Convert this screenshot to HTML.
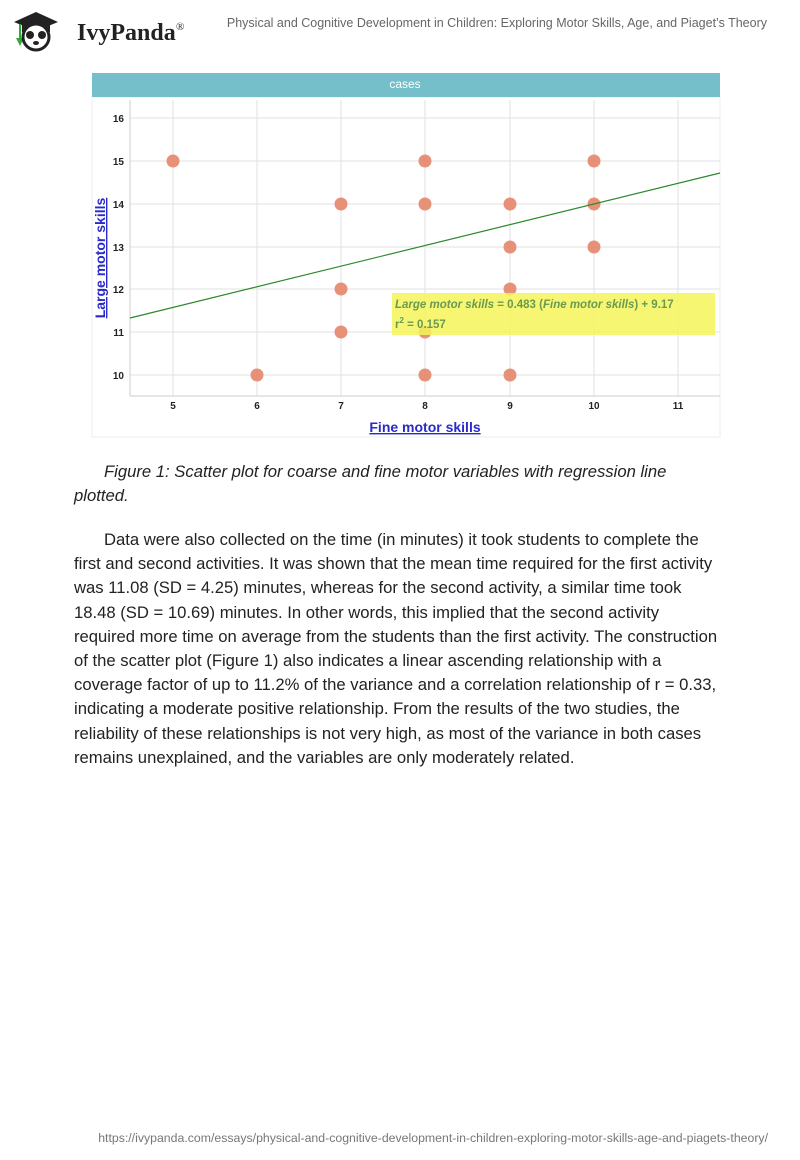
<!DOCTYPE html>
<html><head><meta charset="utf-8"><style>
body{margin:0;width:800px;height:1160px;background:#fff;position:relative;font-family:"Liberation Sans",sans-serif;overflow:hidden}
.l{position:absolute;left:74px;font-size:16.65px;color:#222;white-space:nowrap}
.i{font-style:italic}
</style></head><body>
<svg width="800" height="1160" style="position:absolute;left:0;top:0">
<g>
<polygon points="14,22 36,12 58,22 36,31" fill="#222"/>
<rect x="22" y="24" width="28" height="8" fill="#222"/>
<line x1="20" y1="24" x2="20" y2="40" stroke="#3a3" stroke-width="2"/>
<path d="M16,38 l4,8 l4,-8z" fill="#3a3"/>
<circle cx="36" cy="37" r="13" fill="#fff" stroke="#222" stroke-width="3"/>
<circle cx="30" cy="35" r="4" fill="#222"/><circle cx="42" cy="35" r="4" fill="#222"/>
<ellipse cx="36" cy="43" rx="3" ry="2" fill="#222"/>
</g>
<text x="77" y="40" font-family="Liberation Serif,serif" font-size="24" font-weight="bold" fill="#222">IvyPanda</text>
<text x="176" y="30" font-family="Liberation Serif,serif" font-size="11" fill="#222">®</text>
<text x="767" y="27" text-anchor="end" font-size="12.5" fill="#666">Physical and Cognitive Development in Children: Exploring Motor Skills, Age, and Piaget’s Theory</text>
<rect x="92" y="97" width="628" height="340" fill="#fff" stroke="#eee"/>
<rect x="92" y="73" width="628" height="24" fill="#74bfc9"/>
<text x="405" y="88" text-anchor="middle" font-size="12" fill="#fff">cases</text>
<g stroke="#e2e2e2" stroke-width="1">
<line x1="130" y1="118" x2="720" y2="118"/><line x1="130" y1="161" x2="720" y2="161"/><line x1="130" y1="204" x2="720" y2="204"/><line x1="130" y1="247" x2="720" y2="247"/><line x1="130" y1="289" x2="720" y2="289"/><line x1="130" y1="332" x2="720" y2="332"/><line x1="130" y1="375" x2="720" y2="375"/>
<line x1="173" y1="100" x2="173" y2="396"/><line x1="257" y1="100" x2="257" y2="396"/><line x1="341" y1="100" x2="341" y2="396"/><line x1="425" y1="100" x2="425" y2="396"/><line x1="510" y1="100" x2="510" y2="396"/><line x1="594" y1="100" x2="594" y2="396"/><line x1="678" y1="100" x2="678" y2="396"/>
</g>
<line x1="130" y1="100" x2="130" y2="396" stroke="#ccc"/>
<line x1="130" y1="396" x2="720" y2="396" stroke="#ccc"/>
<g font-size="10" font-weight="bold" fill="#222" text-anchor="end">
<text x="124" y="122">16</text><text x="124" y="165">15</text><text x="124" y="208">14</text><text x="124" y="251">13</text><text x="124" y="293">12</text><text x="124" y="336">11</text><text x="124" y="379">10</text>
</g>
<g font-size="10" font-weight="bold" fill="#222" text-anchor="middle">
<text x="173" y="409">5</text><text x="257" y="409">6</text><text x="341" y="409">7</text><text x="425" y="409">8</text><text x="510" y="409">9</text><text x="594" y="409">10</text><text x="678" y="409">11</text>
</g>
<text x="425" y="432" text-anchor="middle" font-size="14" font-weight="bold" fill="#2a2acc" text-decoration="underline">Fine motor skills</text>
<text transform="translate(105,258) rotate(-90)" text-anchor="middle" font-size="14" font-weight="bold" fill="#2a2acc" text-decoration="underline">Large motor skills</text>
<g fill="#e4856a" fill-opacity="0.9">
<circle cx="173" cy="161" r="6.5"/><circle cx="425" cy="161" r="6.5"/><circle cx="594" cy="161" r="6.5"/>
<circle cx="341" cy="204" r="6.5"/><circle cx="425" cy="204" r="6.5"/><circle cx="510" cy="204" r="6.5"/><circle cx="594" cy="204" r="6.5"/>
<circle cx="510" cy="247" r="6.5"/><circle cx="594" cy="247" r="6.5"/>
<circle cx="341" cy="289" r="6.5"/><circle cx="510" cy="289" r="6.5"/>
<circle cx="341" cy="332" r="6.5"/><circle cx="425" cy="332" r="6.5"/>
<circle cx="257" cy="375" r="6.5"/><circle cx="425" cy="375" r="6.5"/><circle cx="510" cy="375" r="6.5"/>
</g>
<line x1="130" y1="318" x2="720" y2="173" stroke="#2a8a2a" stroke-width="1.2"/>
<rect x="392" y="293" width="323" height="42" fill="#f5f55a" fill-opacity="0.85"/>
<text x="395" y="308" font-size="11.5" font-weight="bold" fill="#6a9a50"><tspan font-style="italic">Large motor skills</tspan> = 0.483 (<tspan font-style="italic">Fine motor skills</tspan>) + 9.17</text>
<text x="395" y="328" font-size="11.5" font-weight="bold" fill="#6a9a50">r<tspan font-size="8" dy="-5">2</tspan><tspan dy="5"> = 0.157</tspan></text>
</svg>
<div class="l i" style="top:462px;left:104px">Figure 1: Scatter plot for coarse and fine motor variables with regression line</div>
<div class="l i" style="top:486px">plotted.</div>
<div class="l" style="top:530px;left:104px">Data were also collected on the time (in minutes) it took students to complete the</div>
<div class="l" style="top:554px">first and second activities. It was shown that the mean time required for the first activity</div>
<div class="l" style="top:578px">was 11.08 (SD = 4.25) minutes, whereas for the second activity, a similar time took</div>
<div class="l" style="top:603px">18.48 (SD = 10.69) minutes. In other words, this implied that the second activity</div>
<div class="l" style="top:627px">required more time on average from the students than the first activity. The construction</div>
<div class="l" style="top:651px">of the scatter plot (Figure 1) also indicates a linear ascending relationship with a</div>
<div class="l" style="top:675px">coverage factor of up to 11.2% of the variance and a correlation relationship of r = 0.33,</div>
<div class="l" style="top:699px">indicating a moderate positive relationship. From the results of the two studies, the</div>
<div class="l" style="top:724px">reliability of these relationships is not very high, as most of the variance in both cases</div>
<div class="l" style="top:748px">remains unexplained, and the variables are only moderately related.</div>
<div style="position:absolute;right:32px;top:1131px;font-size:12.3px;color:#777;white-space:nowrap">https://ivypanda.com/essays/physical-and-cognitive-development-in-children-exploring-motor-skills-age-and-piagets-theory/</div>
</body></html>
